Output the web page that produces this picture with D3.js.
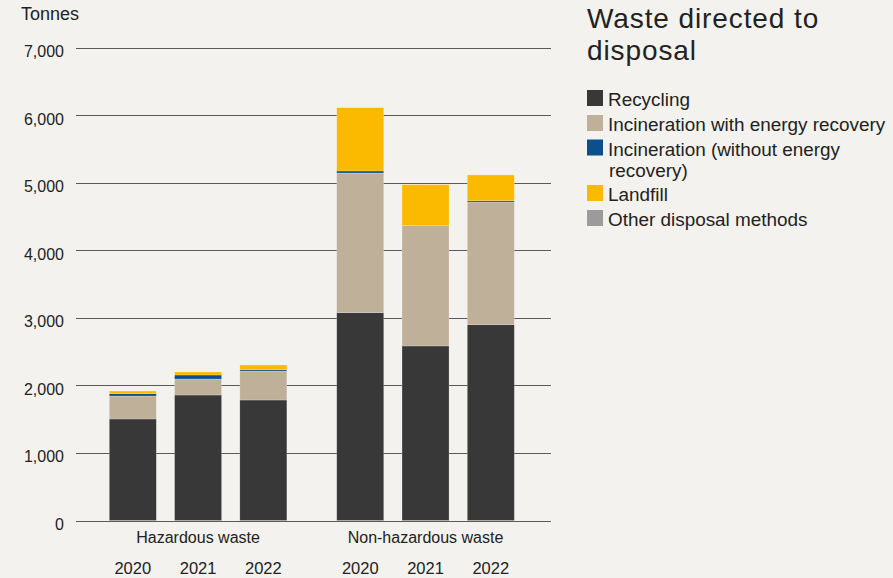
<!DOCTYPE html>
<html>
<head>
<meta charset="utf-8">
<script src="https://d3js.org/d3.v7.min.js"></script>
<style>
  body { margin: 0; background: #f3f2ee; }
  svg { display: block; font-family: "Liberation Sans", Arial, sans-serif; }
  .grid line { stroke: #5a5a5a; stroke-width: 1; shape-rendering: crispEdges; }
  .grid .domain { display: none; }
  .grid text { fill: #222; font-size: 16px; }
</style>
</head>
<body>
<svg id="chart" width="893" height="578"></svg>
<script>
// data (tonnes)
const groups = ["Hazardous waste", "Non-hazardous waste"];
const years = ["2020", "2021", "2022"];
const series = ["Recycling", "Incineration with energy recovery", "Incineration (without energy recovery)", "Landfill", "Other disposal methods"];
const colors = ["#383838", "#bfb09a", "#0b4f8c", "#fbb900", "#9b9b9b"];

// one entry per group, each one value per year
const recycling      = [[1503, 1858, 1784], [3077, 2584, 2899]];
const incinEnergy    = [[340, 237, 429],    [2068, 1781, 1817]];
const incinNoEnergy  = [[34, 59, 20],       [30, 0, 19]];
const landfill       = [[40, 45, 69],       [937, 607, 381]];
const otherMethods   = [[0, 0, 0],          [0, 0, 0]];
const yTicks = [0, 1000, 2000, 3000, 4000, 5000, 6000, 7000];

const svg = d3.select("#chart");

// flat rows for the stack
const rows = [];
groups.forEach((g, gi) => {
  years.forEach((y, yi) => {
    rows.push({
      group: g, year: y,
      [series[0]]: recycling[gi][yi],
      [series[1]]: incinEnergy[gi][yi],
      [series[2]]: incinNoEnergy[gi][yi],
      [series[3]]: landfill[gi][yi],
      [series[4]]: otherMethods[gi][yi]
    });
  });
});

const y = d3.scaleLinear().domain([0, 7000]).range([520.5, 47.7]);

const x0 = d3.scaleBand().domain(groups).range([109.3, 514.3]).paddingInner(50 / 228);
const x1 = d3.scaleBand().domain(years).range([0, x0.bandwidth()]).paddingInner(0.28);

// gridlines + y labels
const grid = svg.append("g")
  .attr("class", "grid")
  .attr("transform", "translate(551,0)")
  .call(d3.axisLeft(y).tickValues(yTicks).tickSize(475).tickPadding(12)
    .tickFormat(d3.format(",")));
grid.selectAll("text").attr("dy", "0.55em");
grid.selectAll(".tick").filter(d => d === 0).select("line").attr("stroke", "#a5a5a5");

svg.append("text").attr("x", 21).attr("y", 20)
  .attr("fill", "#222").style("font-size", "18px").text("Tonnes");

// bars
const stack = d3.stack().keys(series)(rows);
svg.append("g").selectAll("g")
  .data(stack)
  .join("g")
  .attr("fill", (d, i) => colors[i])
  .selectAll("rect")
  .data(d => d)
  .join("rect")
  .attr("x", d => x0(d.data.group) + x1(d.data.year))
  .attr("width", x1.bandwidth())
  .attr("y", d => y(d[1]))
  .attr("height", d => y(d[0]) - y(d[1]))
  .attr("stroke", "#ffffff")
  .attr("stroke-opacity", 0.35)
  .attr("stroke-width", 0.6);

// group labels and years
svg.append("g").selectAll("text")
  .data(groups)
  .join("text")
  .attr("x", d => x0(d) + x0.bandwidth() / 2)
  .attr("y", 542.5)
  .attr("text-anchor", "middle")
  .attr("fill", "#222")
  .style("font-size", "16px")
  .text(d => d);

svg.append("g").selectAll("text")
  .data(rows)
  .join("text")
  .attr("x", d => x0(d.group) + x1(d.year) + x1.bandwidth() / 2)
  .attr("y", 574)
  .attr("text-anchor", "middle")
  .attr("fill", "#222")
  .style("font-size", "16.5px")
  .text(d => d.year);

// title
const title = svg.append("text").attr("x", 587).attr("fill", "#222")
  .style("font-size", "28px").style("letter-spacing", "0.9px");
title.append("tspan").attr("x", 587).attr("y", 28).text("Waste directed to");
title.append("tspan").attr("x", 587).attr("y", 60).text("disposal");

// legend
const legendBase = [106, 131, 155.5, 201, 226];
const legend = svg.append("g").selectAll("g")
  .data(series)
  .join("g");
legend.append("rect")
  .attr("x", 587)
  .attr("y", (d, i) => legendBase[i] - 16)
  .attr("width", 16).attr("height", 16)
  .attr("fill", (d, i) => colors[i]);
legend.append("text")
  .attr("x", 608)
  .attr("y", (d, i) => legendBase[i])
  .attr("fill", "#222")
  .style("font-size", "18.9px")
  .each(function(d, i) {
    const t = d3.select(this);
    if (i === 2) {
      t.append("tspan").attr("x", 608).text("Incineration (without energy");
      t.append("tspan").attr("x", 609).attr("dy", 21.5).text("recovery)");
    } else {
      t.text(d);
    }
  });
</script>
</body>
</html>
